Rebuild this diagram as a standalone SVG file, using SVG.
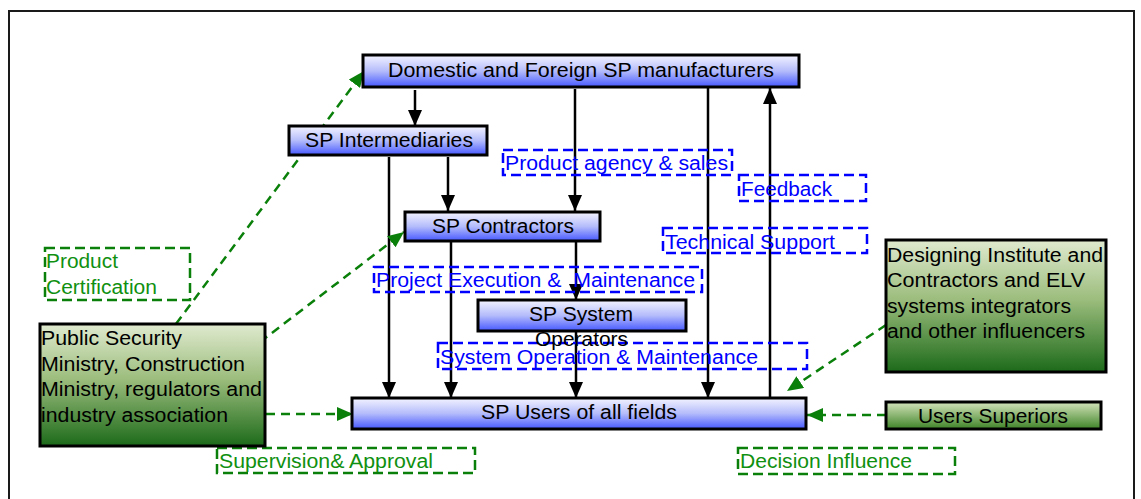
<svg xmlns="http://www.w3.org/2000/svg" width="1141" height="499" viewBox="0 0 1141 499">
<defs>
<linearGradient id="gBlue" x1="0" y1="0" x2="0" y2="1">
<stop offset="0" stop-color="#f4f4ff"/>
<stop offset="0.5" stop-color="#b4bcfb"/>
<stop offset="1" stop-color="#4658ff"/>
</linearGradient>
<linearGradient id="gGreen" x1="0" y1="0" x2="0" y2="1">
<stop offset="0" stop-color="#e0eacf"/>
<stop offset="0.45" stop-color="#9cbd7d"/>
<stop offset="1" stop-color="#1c6a1a"/>
</linearGradient>
<linearGradient id="gGreen2" x1="0" y1="0" x2="0" y2="1">
<stop offset="0" stop-color="#d4e4bb"/>
<stop offset="1" stop-color="#3f8428"/>
</linearGradient>
<marker id="ab" viewBox="0 0 16 14" refX="16" refY="7" markerWidth="16" markerHeight="14" markerUnits="userSpaceOnUse" orient="auto">
<path d="M0,0 L16,7 L0,14 Z" fill="#000"/>
</marker>
<marker id="ag" viewBox="0 0 16 14" refX="16" refY="7" markerWidth="16" markerHeight="14" markerUnits="userSpaceOnUse" orient="auto">
<path d="M0,0 L16,7 L0,14 Z" fill="#0a800a"/>
</marker>
</defs>
<style>
.t{font-family:"Liberation Sans",Arial,sans-serif;font-size:20px;fill:#000}
.bl{font-family:"Liberation Sans",Arial,sans-serif;font-size:20px;fill:#0000ff}
.gl{font-family:"Liberation Sans",Arial,sans-serif;font-size:20px;fill:#109010}
.nb{fill:url(#gBlue);stroke:#000;stroke-width:3}
.ng{fill:url(#gGreen);stroke:#000;stroke-width:3}
.ng2{fill:url(#gGreen2);stroke:#000;stroke-width:3}
.lb{fill:none;stroke:#0000ff;stroke-width:2.5;stroke-dasharray:10,5}
.lg{fill:none;stroke:#0a800a;stroke-width:2.5;stroke-dasharray:10,5}
.cb{stroke:#000;stroke-width:2.5;fill:none;marker-end:url(#ab)}
.cg{stroke:#0a800a;stroke-width:2.5;fill:none;stroke-dasharray:9,6;marker-end:url(#ag)}
</style>
<rect x="0" y="0" width="1141" height="499" fill="#fff"/>
<path d="M9,499 L9,11 L1134,11 L1134,499" fill="none" stroke="#1a1a1a" stroke-width="2"/>

<g id="connectors">
<line class="cb" x1="415" y1="90" x2="415" y2="126"/>
<line class="cb" x1="448" y1="157" x2="448" y2="211"/>
<line class="cb" x1="575" y1="89" x2="575" y2="211"/>
<line class="cb" x1="708" y1="88" x2="708" y2="398"/>
<line class="cb" x1="770" y1="400" x2="770" y2="88"/>
<line class="cb" x1="389" y1="157" x2="389" y2="398"/>
<line class="cb" x1="451" y1="241" x2="451" y2="398"/>
<line class="cb" x1="576" y1="241" x2="576" y2="300"/>
<line class="cb" x1="576" y1="331" x2="576" y2="398"/>
<line class="cg" x1="167" y1="336" x2="364" y2="71"/>
<line class="cg" x1="260" y1="342" x2="404" y2="232"/>
<line class="cg" x1="266" y1="414" x2="353" y2="414"/>
<line class="cg" x1="886" y1="325" x2="787" y2="391"/>
<line class="cg" x1="886" y1="415" x2="807" y2="415"/>
</g>

<g id="label-product-agency">
<rect class="lb" x="503" y="150" width="229" height="25"/>
<text class="bl" x="505" y="170" textLength="223" lengthAdjust="spacingAndGlyphs">Product agency &amp; sales</text>
</g>
<g id="label-feedback">
<rect class="lb" x="739" y="175" width="127" height="26"/>
<text class="bl" x="741" y="196" textLength="91" lengthAdjust="spacingAndGlyphs">Feedback</text>
</g>
<g id="label-technical-support">
<rect class="lb" x="663" y="228" width="204" height="25"/>
<text class="bl" x="665" y="249" textLength="170" lengthAdjust="spacingAndGlyphs">Technical Support</text>
</g>
<g id="label-project-execution">
<rect class="lb" x="374" y="267" width="328" height="25"/>
<text class="bl" x="376" y="287" textLength="319" lengthAdjust="spacingAndGlyphs">Project Execution &amp; &#160;Maintenance</text>
</g>
<g id="label-system-operation">
<rect class="lb" x="438" y="343" width="369" height="26"/>
<text class="bl" x="440" y="364" textLength="318" lengthAdjust="spacingAndGlyphs">System Operation &amp; Maintenance</text>
</g>
<g id="label-product-certification">
<rect class="lg" x="45" y="248" width="145" height="52"/>
<text class="gl" x="46" y="268" textLength="72" lengthAdjust="spacingAndGlyphs">Product</text>
<text class="gl" x="46" y="294" textLength="111" lengthAdjust="spacingAndGlyphs">Certification</text>
</g>
<g id="label-supervision">
<rect class="lg" x="217" y="448" width="258" height="25"/>
<text class="gl" x="219" y="468" textLength="214" lengthAdjust="spacingAndGlyphs">Supervision&amp; Approval</text>
</g>
<g id="label-decision">
<rect class="lg" x="738" y="448" width="217" height="26"/>
<text class="gl" x="740" y="468" textLength="172" lengthAdjust="spacingAndGlyphs">Decision Influence</text>
</g>

<g id="node-manufacturers">
<rect class="nb" x="363" y="55" width="436" height="32"/>
<text class="t" x="388" y="77" textLength="386" lengthAdjust="spacingAndGlyphs">Domestic and Foreign SP manufacturers</text>
</g>
<g id="node-intermediaries">
<rect class="nb" x="289" y="126" width="198" height="29"/>
<text class="t" x="305" y="147" textLength="168" lengthAdjust="spacingAndGlyphs">SP Intermediaries</text>
</g>
<g id="node-contractors">
<rect class="nb" x="405" y="212" width="195" height="29"/>
<text class="t" x="432" y="233" textLength="142" lengthAdjust="spacingAndGlyphs">SP Contractors</text>
</g>
<g id="node-system-operators">
<rect class="nb" x="478" y="300" width="208" height="31"/>
<text class="t" x="529" y="321" textLength="104" lengthAdjust="spacingAndGlyphs">SP System</text>
<text class="t" x="535" y="346" textLength="93" lengthAdjust="spacingAndGlyphs">Operators</text>
</g>
<g id="node-users">
<rect class="nb" x="352" y="398" width="454" height="31"/>
<text class="t" x="481" y="419" textLength="196" lengthAdjust="spacingAndGlyphs">SP Users of all fields</text>
</g>
<g id="node-public-security">
<rect class="ng" x="40" y="324" width="225" height="122"/>
<text class="t" x="41" y="345" textLength="141" lengthAdjust="spacingAndGlyphs">Public Security</text>
<text class="t" x="41" y="371" textLength="204" lengthAdjust="spacingAndGlyphs">Ministry, Construction</text>
<text class="t" x="41" y="396" textLength="221" lengthAdjust="spacingAndGlyphs">Ministry, regulators and</text>
<text class="t" x="41" y="422" textLength="187" lengthAdjust="spacingAndGlyphs">industry association</text>
</g>
<g id="node-designing-institute">
<rect class="ng" x="886" y="240" width="220" height="132"/>
<text class="t" x="887" y="262" textLength="216" lengthAdjust="spacingAndGlyphs">Designing Institute and</text>
<text class="t" x="887" y="287" textLength="198" lengthAdjust="spacingAndGlyphs">Contractors and ELV</text>
<text class="t" x="887" y="313" textLength="184" lengthAdjust="spacingAndGlyphs">systems integrators</text>
<text class="t" x="887" y="338" textLength="198" lengthAdjust="spacingAndGlyphs">and other influencers</text>
</g>
<g id="node-users-superiors">
<rect class="ng2" x="886" y="402" width="215" height="27"/>
<text class="t" x="918" y="423" textLength="150" lengthAdjust="spacingAndGlyphs">Users Superiors</text>
</g>
</svg>
